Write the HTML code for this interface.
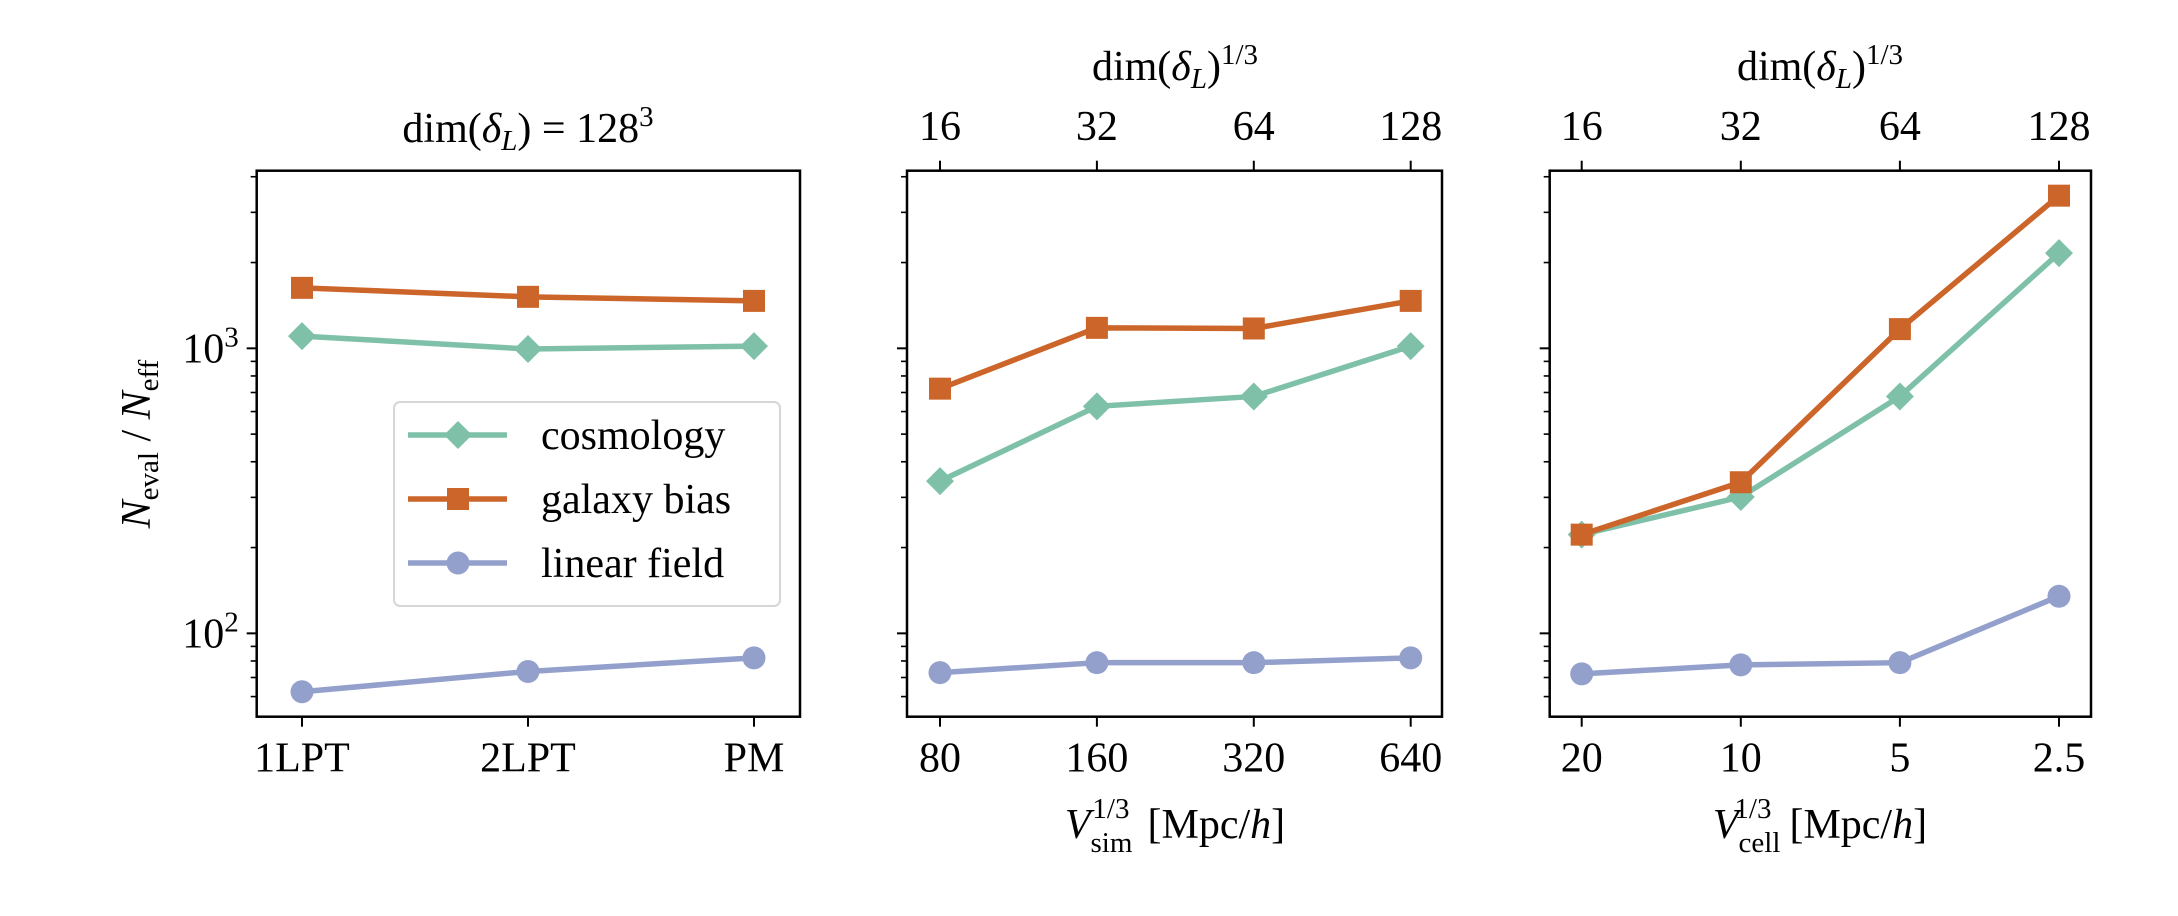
<!DOCTYPE html>
<html><head><meta charset="utf-8">
<style>
html,body{margin:0;padding:0;background:#fff;}
svg{display:block;font-family:"Liberation Serif","DejaVu Serif",serif;}
svg text{font-family:"Liberation Serif","DejaVu Serif",serif;}
</style></head>
<body>
<svg id="chart" width="2178" height="916" viewBox="0 0 2178 916" xmlns="http://www.w3.org/2000/svg"></svg>
<script>
const panel1Categories = ["1LPT","2LPT","PM"];
const panel2Categories = ["80","160","320","640"];
const panel2TopLabels = ["16","32","64","128"];
const panel3Categories = ["20","10","5","2.5"];
const panel3TopLabels = ["16","32","64","128"];
const p1Cosmology = [1104, 995, 1018];
const p1Bias = [1630, 1516, 1467];
const p1Linear = [62.4, 73.5, 82];
const p2Cosmology = [342, 626, 678, 1018];
const p2Bias = [722, 1180, 1174, 1467];
const p2Linear = [72.8, 78.9, 78.9, 82];
const p3Cosmology = [222, 301, 678, 2158];
const p3Bias = [222, 339, 1168, 3433];
const p3Linear = [72.1, 77.5, 78.9, 135];
const yMajorTicks = [100, 1000];
const yMajorLabels = ["2","3"];
const seriesNames = ["cosmology","galaxy bias","linear field"];

const NS = "http://www.w3.org/2000/svg";
const svg = document.getElementById("chart");
const COL = {cos:"#7fc1a8", bias:"#cc6529", lin:"#93a0cc"};
const yTop = 170.7, yBot = 716.7;
const yMin = 51, yMax = 4200;
function yScale(v){ return yBot - (Math.log10(v)-Math.log10(yMin))/(Math.log10(yMax)-Math.log10(yMin))*(yBot-yTop); }

function el(tag, attrs, parent){
  const e = document.createElementNS(NS, tag);
  for (const k in attrs) e.setAttribute(k, attrs[k]);
  (parent||svg).appendChild(e);
  return e;
}

const panels = [
  {left:256.7, right:800, first:302, last:754, cats:panel1Categories, top:null, cos:p1Cosmology, bias:p1Bias, lin:p1Linear, name:"panel-integrator"},
  {left:907, right:1442, first:940, last:1410.7, cats:panel2Categories, top:panel2TopLabels, cos:p2Cosmology, bias:p2Bias, lin:p2Linear, name:"panel-volume"},
  {left:1549.7, right:2091, first:1581.7, last:2059, cats:panel3Categories, top:panel3TopLabels, cos:p3Cosmology, bias:p3Bias, lin:p3Linear, name:"panel-resolution"}
];

panels.forEach((p, pi) => {
  const g = el("g", {});
  
  
  const n = p.cats.length;
  const xs = i => p.first + i*(p.last-p.first)/(n-1);
  for (let dec = 10; dec <= 1000; dec *= 10) {
    for (let m = 1; m <= 9; m++) {
      const v = dec*m;
      if (v < yMin || v > yMax) continue;
      const y = yScale(v);
      const major = (m === 1);
      const t = el("line", {x1:p.left, x2:p.left-(major?10:6), y1:y, y2:y, stroke:"#000", "stroke-width":major?2:1.6}, g);
      
      
    }
  }
  if (pi === 0) {
    yMajorTicks.forEach((v, i) => {
      const tx = el("text", {x:p.left-18, y:yScale(v)+14, "text-anchor":"end", "font-size":42}, g);
      
      
      tx.textContent = "10";
      const sup = el("tspan", {dy:-16, "font-size":29}, tx);
      sup.textContent = yMajorLabels[i];
    });
  }
  p.cats.forEach((c, i) => {
    const x = xs(i);
    const t = el("line", {x1:x, x2:x, y1:yBot, y2:yBot+10, stroke:"#000", "stroke-width":2}, g);
    
    
    const tx = el("text", {x:x, y:yBot+55, "text-anchor":"middle", "font-size":42}, g);
    
    
    tx.textContent = c;
    if (p.top) {
      const tt = el("line", {x1:x, x2:x, y1:yTop, y2:yTop-10, stroke:"#000", "stroke-width":2}, g);
      
      
      const tl = el("text", {x:x, y:140, "text-anchor":"middle", "font-size":42}, g);
      
      
      tl.textContent = p.top[i];
    }
  });
  const series = [
    {vals:p.cos, col:COL.cos, mk:"diamond", nm:"cosmology"},
    {vals:p.bias, col:COL.bias, mk:"square", nm:"galaxy-bias"},
    {vals:p.lin, col:COL.lin, mk:"circle", nm:"linear-field"}
  ];
  series.forEach(s => {
    const pts = s.vals.map((v,i)=>xs(i)+","+yScale(v)).join(" ");
    const l = el("polyline", {points:pts, fill:"none", stroke:s.col, "stroke-width":5.5, "stroke-linejoin":"round"}, g);
    
    
    s.vals.forEach((v,i) => {
      const x = xs(i), y = yScale(v);
      let m;
      if (s.mk === "circle") m = el("circle", {cx:x, cy:y, r:11.5, fill:s.col}, g);
      else if (s.mk === "square") m = el("rect", {x:x-11, y:y-11, width:22, height:22, fill:s.col}, g);
      else m = el("polygon", {points:`${x},${y-14} ${x+14},${y} ${x},${y+14} ${x-14},${y}`, fill:s.col}, g);
      
      
    });
  });
  const frame = el("rect", {x:p.left, y:yTop, width:p.right-p.left, height:yBot-yTop, fill:"none", stroke:"#000", "stroke-width":2.5}, g);
  
  
});
</script>

<svg style="position:absolute;left:0;top:0" width="2178" height="916">
  <text x="528" y="142" text-anchor="middle" font-size="42">dim(<tspan font-style="italic">δ</tspan><tspan font-style="italic" font-size="29" dy="8">L</tspan><tspan dy="-8">) = 128</tspan><tspan font-size="29" dy="-16">3</tspan></text>
  <text x="1175" y="80" text-anchor="middle" font-size="42">dim(<tspan font-style="italic">δ</tspan><tspan font-style="italic" font-size="29" dy="8">L</tspan><tspan dy="-8">)</tspan><tspan font-size="29" dy="-16">1/3</tspan></text>
  <text x="1820" y="80" text-anchor="middle" font-size="42">dim(<tspan font-style="italic">δ</tspan><tspan font-style="italic" font-size="29" dy="8">L</tspan><tspan dy="-8">)</tspan><tspan font-size="29" dy="-16">1/3</tspan></text>
  <text x="1175" y="838" text-anchor="middle" font-size="42"><tspan font-style="italic">V</tspan><tspan font-size="29" dy="14">sim</tspan><tspan font-size="29" dx="-40" dy="-34">1/3</tspan><tspan dy="20" dx="18">[Mpc/</tspan><tspan font-style="italic">h</tspan>]</text>
  <text x="1820" y="838" text-anchor="middle" font-size="42"><tspan font-style="italic">V</tspan><tspan font-size="29" dy="14">cell</tspan><tspan font-size="29" dx="-46" dy="-34">1/3</tspan><tspan dy="20" dx="18">[Mpc/</tspan><tspan font-style="italic">h</tspan>]</text>
  <text transform="translate(150,444) rotate(-90)" text-anchor="middle" font-size="42"><tspan font-style="italic">N</tspan><tspan font-size="29" dy="8">eval</tspan><tspan dy="-8"> / </tspan><tspan font-style="italic">N</tspan><tspan font-size="29" dy="8">eff</tspan></text>
  <g>
    <rect x="394" y="402" width="386" height="204" rx="6" fill="#fff" fill-opacity="0.8" stroke="#d6d6d6" stroke-width="2"/>
    <g>
      <line x1="408" x2="507" y1="435" y2="435" stroke="#7fc1a8" stroke-width="5.5"/>
      <polygon points="458,421 472,435 458,449 444,435" fill="#7fc1a8"/>
      <text x="541" y="449" font-size="42">cosmology</text>
    </g>
    <g>
      <line x1="408" x2="507" y1="499" y2="499" stroke="#cc6529" stroke-width="5.5"/>
      <rect x="447" y="488" width="22" height="22" fill="#cc6529"/>
      <text x="541" y="513" font-size="42">galaxy bias</text>
    </g>
    <g>
      <line x1="408" x2="507" y1="563" y2="563" stroke="#93a0cc" stroke-width="5.5"/>
      <circle cx="458" cy="563" r="11.5" fill="#93a0cc"/>
      <text x="541" y="577" font-size="42">linear field</text>
    </g>
  </g>
</svg>
</body></html>
